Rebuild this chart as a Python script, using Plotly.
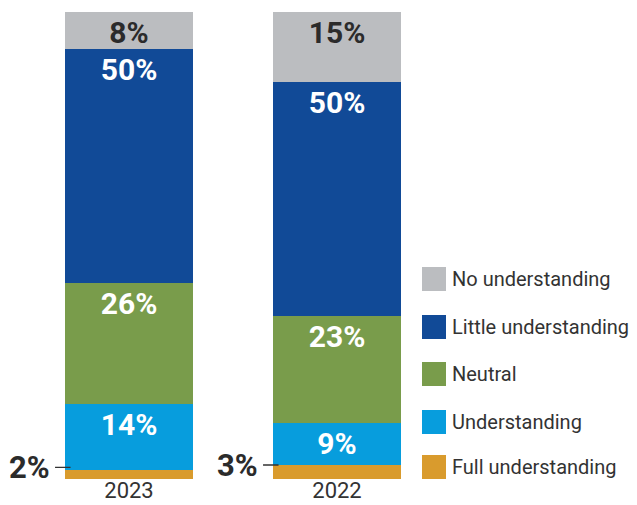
import plotly.graph_objects as go

# Survey years shown as stacked columns
years = ["2023", "2022"]

# Share of respondents per answer, bottom segment first
series_names = ["Full understanding", "Understanding", "Neutral",
                "Little understanding", "No understanding"]
full_understanding = [2, 3]
understanding = [14, 9]
neutral = [26, 23]
little_understanding = [50, 50]
no_understanding = [8, 15]

values = [full_understanding, understanding, neutral,
          little_understanding, no_understanding]
colors = ["#d99b2d", "#079ddd", "#799c4b", "#114a97", "#bbbdc0"]
text_colors = ["#2b2b2b", "white", "white", "white", "#2b2b2b"]

FONT = "Roboto"
W, H = 637, 505
ML, MR, MT, MB = 25, 196, 12, 26
PW, PH = W - ML - MR, H - MT - MB

fig = go.Figure()
for i, (name, vals) in enumerate(zip(series_names, values)):
    # the thin bottom segment is labelled outside the column
    labels = ["" for v in vals] if i == 0 else [f"{v}%" for v in vals]
    fig.add_trace(go.Bar(
        x=years, y=vals, name=name,
        marker=dict(color=colors[i], line=dict(width=0)),
        text=labels, textposition="inside", insidetextanchor="end",
        textangle=0,
        textfont=dict(family=FONT, size=30, color=text_colors[i], weight="bold"),
        hoverinfo="skip", showlegend=False,
    ))

bargap = 0.385
half = (1 - bargap) / 2

# Outside labels with leader lines for the bottom segment
for j, v in enumerate(full_understanding):
    left = j - half
    fig.add_annotation(
        x=left - 13 / (PW / 2), y=v / 2, xref="x", yref="y",
        text=f"<b>{v}%</b>", showarrow=False, xanchor="right", yanchor="middle",
        yshift=7, font=dict(family=FONT, size=31, color="#2b2b2b"),
    )
    fig.add_annotation(
        x=left - 10 / (PW / 2), y=v / 2, ax=left + 7 / (PW / 2), ay=v / 2,
        xref="x", yref="y", axref="x", ayref="y", yshift=7,
        text="", showarrow=True, arrowhead=0, arrowwidth=1.3, arrowcolor="#333333",
        startstandoff=0, standoff=0,
    )

# Legend: square swatches with names, top item = top segment
legend_rows = [279, 327, 374, 422, 467]
for k, idx in enumerate(range(len(series_names) - 1, -1, -1)):
    cy = legend_rows[k]
    x0 = (422 - ML) / PW
    x1 = (446 - ML) / PW
    y0 = (H - MB - (cy + 12)) / PH
    y1 = (H - MB - (cy - 12)) / PH
    fig.add_shape(type="rect", xref="paper", yref="paper",
                  x0=x0, x1=x1, y0=y0, y1=y1,
                  fillcolor=colors[idx], line=dict(width=0))
    fig.add_annotation(
        xref="paper", yref="paper", x=(450 - ML) / PW, y=(H - MB - cy) / PH,
        text=series_names[idx], showarrow=False, xanchor="left", yanchor="middle",
        font=dict(family=FONT, size=20, color="#333333"),
    )

fig.update_layout(
    barmode="stack", bargap=bargap,
    width=W, height=H,
    margin=dict(l=ML, r=MR, t=MT, b=MB, autoexpand=False),
    paper_bgcolor="white", plot_bgcolor="white",
    uniformtext=dict(minsize=30, mode="show"),
    xaxis=dict(type="category", range=[-0.5, 1.5], showgrid=False, zeroline=False,
               showline=False, ticks="", automargin=False, ticklabelstandoff=-4,
               tickfont=dict(family=FONT, size=22, color="#333333")),
    yaxis=dict(range=[0, 100], visible=False, automargin=False),
)

fig.write_html("out.html")
